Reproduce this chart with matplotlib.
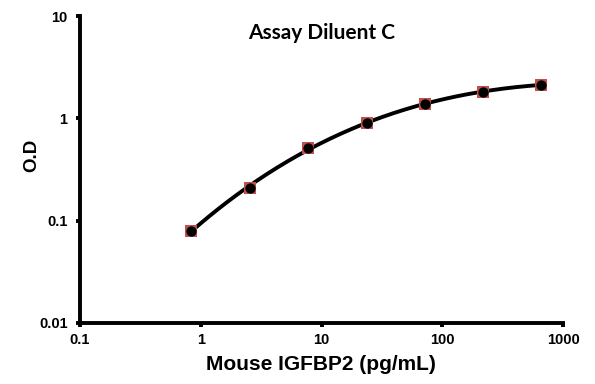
import numpy as np
import matplotlib
matplotlib.use("Agg")
import matplotlib.pyplot as plt

# standard curve data
conc = [0.834, 2.54, 7.70, 23.6, 71.3, 216.0, 655.0]
od = [0.0796, 0.210, 0.509, 0.902, 1.39, 1.79, 2.14]
xticks = [0.1, 1, 10, 100, 1000]
xtick_labels = ['0.1', '1', '10', '100', '1000']
yticks = [0.01, 0.1, 1, 10]
ytick_labels = ['0.01', '0.1', '1', '10']

plt.rcParams['font.family'] = ['Liberation Sans', 'DejaVu Sans']

W, H = 595, 384
fig = plt.figure(figsize=(W / 100, H / 100), dpi=100)
# axes box in pixels: x 80..563, y 16..323
ax = fig.add_axes([80 / W, 1 - 323 / H, 483 / W, 307 / H])

# smooth fitted curve (cubic in log-log space)
lx = np.log10(conc)
ly = np.log10(od)
coef = np.polyfit(lx, ly, 3)
xs = np.linspace(lx[0], lx[-1], 200)
ax.plot(10 ** xs, 10 ** np.polyval(coef, xs), color='black', lw=2.8, zorder=2,
        solid_capstyle='round')

ax.scatter(conc, od, marker='s', s=85, color='#c0504d', zorder=3, linewidths=0)
ax.scatter(conc, od, marker='o', s=55, color='black', zorder=4, linewidths=0)

ax.set_xscale('log')
ax.set_yscale('log')
ax.set_xlim(0.1, 1000)
ax.set_ylim(0.01, 10)
ax.set_xticks(xticks)
ax.set_xticklabels(xtick_labels)
ax.set_yticks(yticks)
ax.set_yticklabels(ytick_labels)
ax.minorticks_off()

for s in ['top', 'right']:
    ax.spines[s].set_visible(False)
for s in ['left', 'bottom']:
    ax.spines[s].set_linewidth(2.8)
ax.tick_params(width=2.8, length=3, labelsize=10.5)
ax.tick_params(axis='y', pad=6)
ax.tick_params(axis='x', pad=4)
for lab in ax.get_xticklabels() + ax.get_yticklabels():
    lab.set_fontweight('bold')

fig.text(321 / W, 1 - 364 / H, 'Mouse IGFBP2 (pg/mL)', ha='center', va='center',
         fontsize=15, fontweight='bold')
fig.text(32 / W, 1 - 155 / H, 'O.D', ha='center', va='center', rotation=90,
         fontsize=13.5, fontweight='bold')
fig.text(322 / W, 1 - 33 / H, 'Assay Diluent C', ha='center', va='center',
         fontsize=15, fontweight='bold', family=['Lato', 'DejaVu Sans'])

fig.savefig('out.png', dpi=100)
